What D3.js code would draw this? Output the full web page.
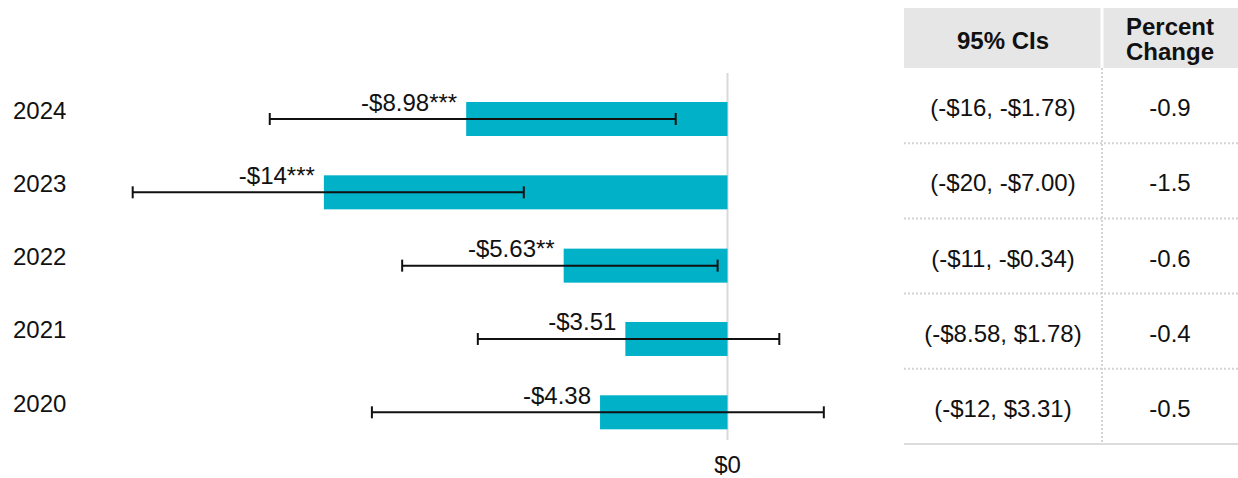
<!DOCTYPE html>
<html>
<head>
<meta charset="utf-8">
<script src="https://cdn.jsdelivr.net/npm/d3@7"></script>
<style>
  html, body { margin: 0; padding: 0; background: #fff; }
  svg { display: block; font-family: "Liberation Sans", Arial, Helvetica, sans-serif; }
</style>
</head>
<body>
<svg id="chart" width="1238" height="478"></svg>
<script>
// ---- data ----
const years = ["2024", "2023", "2022", "2021", "2020"];
const values = [-8.98, -13.87, -5.63, -3.51, -4.38];
const valueLabels = ["-$8.98***", "-$14***", "-$5.63**", "-$3.51", "-$4.38"];
const ciLow = [-15.73, -20.44, -11.18, -8.58, -12.22];
const ciHigh = [-1.78, -7.00, -0.34, 1.78, 3.31];
const ciLabels = ["(-$16, -$1.78)", "(-$20, -$7.00)", "(-$11, -$0.34)", "(-$8.58, $1.78)", "(-$12, $3.31)"];
const pctChange = ["-0.9", "-1.5", "-0.6", "-0.4", "-0.5"];
const headers = ["95% CIs", ["Percent", "Change"]];
const zeroTick = ["$0"];

const rows = years.map((y, i) => ({
  year: y, value: values[i], label: valueLabels[i],
  lo: ciLow[i], hi: ciHigh[i], ci: ciLabels[i], pct: pctChange[i]
}));

const svg = d3.select("#chart");
const font = 24;

// ---- scales ----
const x = d3.scaleLinear().domain([-22, 4]).range([727.5 - 22 * 29.1, 727.5 + 4 * 29.1]);
const y = d3.scalePoint().domain(years).range([119, 412.3]);
const barH = 34;

// zero line
svg.append("line")
  .attr("x1", x(0)).attr("x2", x(0))
  .attr("y1", 73).attr("y2", 440)
  .attr("stroke", "#d9d9d9").attr("stroke-width", 2);

// x axis tick label
svg.append("g").selectAll("text").data([0]).join("text")
  .attr("x", d => x(d)).attr("y", 473)
  .attr("text-anchor", "middle")
  .attr("font-size", font).attr("fill", "#111")
  .text((d, i) => zeroTick[i]);

// bars
svg.append("g").selectAll("rect").data(rows).join("rect")
  .attr("x", d => x(Math.min(0, d.value)))
  .attr("width", d => Math.abs(x(d.value) - x(0)))
  .attr("y", d => y(d.year) - barH / 2)
  .attr("height", barH)
  .attr("fill", "#00b1c7");

// error bars
const eb = svg.append("g").attr("stroke", "#111").attr("stroke-width", 2);
eb.selectAll("line.h").data(rows).join("line").attr("class", "h")
  .attr("x1", d => x(d.lo)).attr("x2", d => x(d.hi))
  .attr("y1", d => y(d.year)).attr("y2", d => y(d.year));
eb.selectAll("line.l").data(rows).join("line").attr("class", "l")
  .attr("x1", d => x(d.lo)).attr("x2", d => x(d.lo))
  .attr("y1", d => y(d.year) - 6).attr("y2", d => y(d.year) + 6);
eb.selectAll("line.r").data(rows).join("line").attr("class", "r")
  .attr("x1", d => x(d.hi)).attr("x2", d => x(d.hi))
  .attr("y1", d => y(d.year) - 6).attr("y2", d => y(d.year) + 6);

// value labels
svg.append("g").selectAll("text").data(rows).join("text")
  .attr("x", d => x(d.value) - 9)
  .attr("y", d => y(d.year) - 8.5)
  .attr("text-anchor", "end")
  .attr("font-size", font).attr("fill", "#111")
  .text(d => d.label);

// year labels
svg.append("g").selectAll("text").data(rows).join("text")
  .attr("x", 13)
  .attr("y", d => y(d.year) - 0.5)
  .attr("font-size", font).attr("fill", "#111")
  .text(d => d.year);

// ---- table ----
const tL = 904, tM = 1102, tR = 1238, tTop = 8, hBot = 68, tBot = 444;
const rowY = d3.scaleBand().domain(years).range([hBot, tBot]);
const col1 = (tL + tM) / 2, col2 = (tM + tR) / 2;

// header background
svg.append("rect").attr("x", tL).attr("y", tTop).attr("width", tR - tL).attr("height", hBot - tTop).attr("fill", "#e6e6e6");
svg.append("line").attr("x1", tM).attr("x2", tM).attr("y1", tTop).attr("y2", hBot).attr("stroke", "#fff").attr("stroke-width", 3);

svg.append("text").attr("x", col1).attr("y", 49).attr("text-anchor", "middle")
  .attr("font-size", font).attr("font-weight", "bold").attr("fill", "#111").text(headers[0]);
svg.append("text").attr("x", col2).attr("y", 35).attr("text-anchor", "middle")
  .attr("font-size", font).attr("font-weight", "bold").attr("fill", "#111").text(headers[1][0]);
svg.append("text").attr("x", col2).attr("y", 60).attr("text-anchor", "middle")
  .attr("font-size", font).attr("font-weight", "bold").attr("fill", "#111").text(headers[1][1]);

// dotted row separators
svg.append("g").selectAll("line").data(years.slice(1)).join("line")
  .attr("x1", tL).attr("x2", tR)
  .attr("y1", d => rowY(d)).attr("y2", d => rowY(d))
  .attr("stroke", "#d4d4d4").attr("stroke-width", 2).attr("stroke-dasharray", "2,2");
// vertical dotted divider
svg.append("line").attr("x1", tM).attr("x2", tM).attr("y1", hBot).attr("y2", tBot)
  .attr("stroke", "#d4d4d4").attr("stroke-width", 2).attr("stroke-dasharray", "2,2");
// bottom line
svg.append("line").attr("x1", tL).attr("x2", tR).attr("y1", tBot).attr("y2", tBot)
  .attr("stroke", "#dcdcdc").attr("stroke-width", 2);

// table cells
svg.append("g").selectAll("text").data(rows).join("text")
  .attr("x", col1).attr("y", d => rowY(d.year) + rowY.bandwidth() / 2 + 10.5)
  .attr("text-anchor", "middle").attr("font-size", font).attr("fill", "#111")
  .text(d => d.ci);
svg.append("g").selectAll("text").data(rows).join("text")
  .attr("x", col2).attr("y", d => rowY(d.year) + rowY.bandwidth() / 2 + 10.5)
  .attr("text-anchor", "middle").attr("font-size", font).attr("fill", "#111")
  .text(d => d.pct);
</script>
</body>
</html>
